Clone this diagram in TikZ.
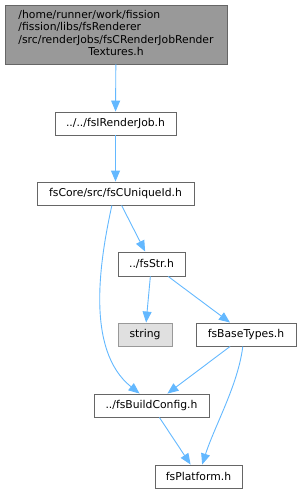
\documentclass[tikz,border=0pt]{standalone}
\usepackage{fontspec}
\setmainfont{DejaVu Sans}
\usetikzlibrary{arrows.meta}
\definecolor{igEdge}{HTML}{63B8FF}
\definecolor{igBorder}{HTML}{666666}
\definecolor{igRoot}{HTML}{999999}
\definecolor{igExtBorder}{HTML}{999999}
\definecolor{igExt}{HTML}{E0E0E0}
\tikzset{
  incfile/.style={draw=igBorder, fill=white, line width=0.9pt, inner sep=0pt,
    minimum height=23, font=\fontsize{10.8}{12.4}\selectfont},
  incl/.style={-{Triangle[length=11pt,width=9pt]}, draw=igEdge, line width=0.9pt},
}
\begin{document}
\begin{tikzpicture}[x=1pt, y=-1pt]
  \useasboundingbox (0,0) rectangle (302,493);
  \node[incfile, fill=igRoot, minimum width=222, minimum height=59] (root) at (116,34.5)
    {\begin{tabular}{@{}l@{}}/home/runner/work/fission\\/fission/libs/fsRenderer\\/src/renderJobs/fsCRenderJobRender\\\multicolumn{1}{@{}c@{}}{Textures.h}\end{tabular}};
  \node[incfile, minimum width=121] (irj) at (115.5,123.5) {../../fsIRenderJob.h};
  \node[incfile, minimum width=157] (uid) at (115.5,193.5) {fsCore/src/fsCUniqueId.h};
  \node[incfile, minimum width=67, minimum height=24] (str) at (151.5,264) {../fsStr.h};
  \node[incfile, draw=igExtBorder, fill=igExt, minimum width=54] (stdstr) at (145,334.5) {string};
  \node[incfile, minimum width=100] (bt) at (246,334.5) {fsBaseTypes.h};
  \node[incfile, minimum width=115] (cfg) at (151.5,405.5) {../fsBuildConfig.h};
  \node[incfile, minimum width=87] (plat) at (198.5,476.5) {fsPlatform.h};
  \draw[incl] (root) -- (irj);
  \draw[incl] (irj) -- (uid);
  \draw[incl] (uid) -- (str);
  \draw[incl] (uid.253) .. controls (100,260) and (85,350) .. (cfg.135);
  \draw[incl] (str) -- (stdstr);
  \draw[incl] (str) -- (bt);
  \draw[incl] (bt) -- (cfg);
  \draw[incl] (bt.255) .. controls (238,385) and (215,425) .. (plat.73);
  \draw[incl] (cfg) -- (plat);
\end{tikzpicture}
\end{document}
